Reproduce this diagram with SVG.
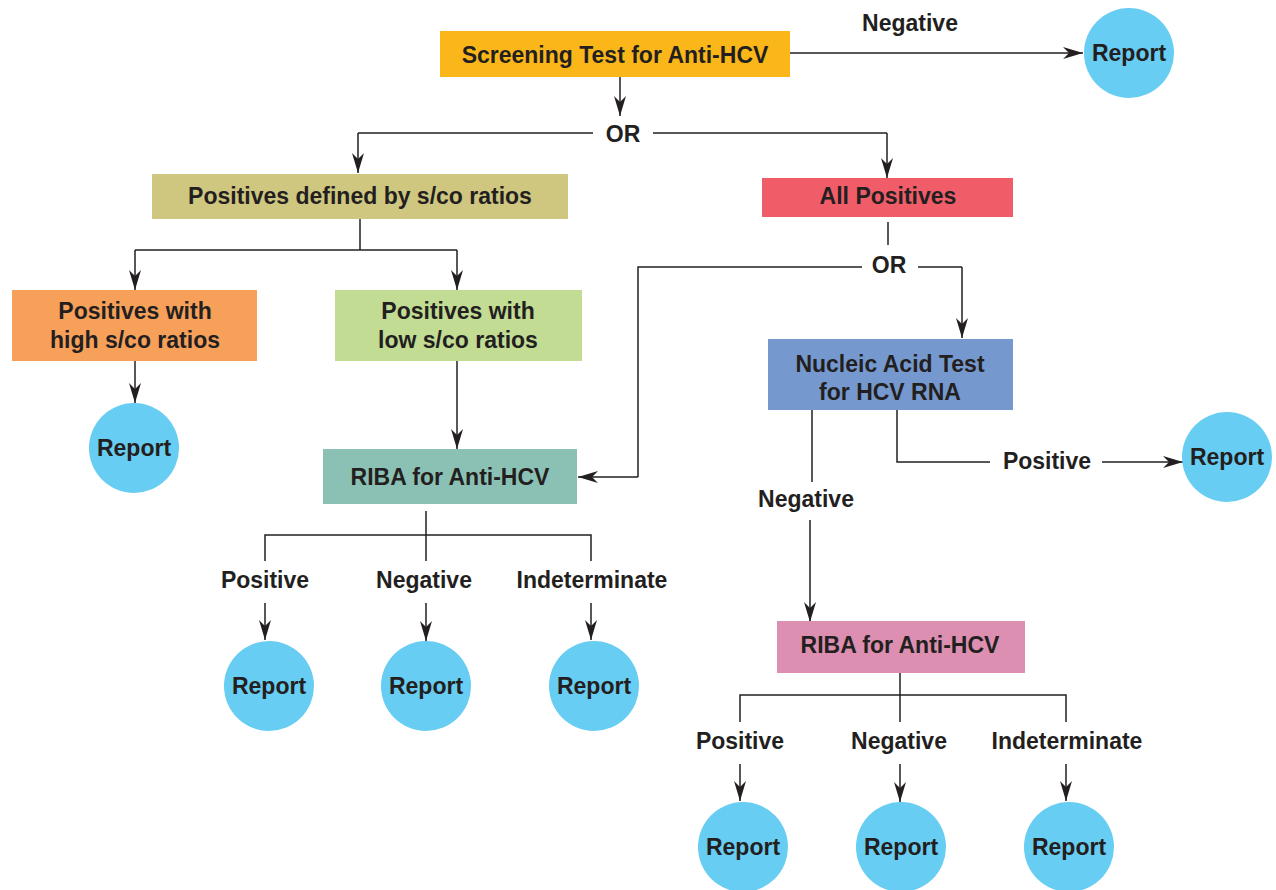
<svg xmlns="http://www.w3.org/2000/svg" width="1276" height="890" viewBox="0 0 1276 890">
<defs>
<marker id="ah" markerUnits="userSpaceOnUse" markerWidth="22" markerHeight="13" refX="20" refY="6" orient="auto">
<path d="M0,0 L20,6 L0,12 L6,6 z" fill="#231F20"/>
</marker>
<style>
text{font-family:"Liberation Sans",Arial,sans-serif;font-weight:bold;font-size:23px;fill:#231F20;text-anchor:middle}
.ln{fill:none;stroke:#231F20;stroke-width:1.5}
.ar{fill:none;stroke:#231F20;stroke-width:1.5;marker-end:url(#ah)}
.rep{fill:#67CDF3}
</style>
</defs>
<rect width="1276" height="890" fill="#FFFFFF"/>

<g id="connectors">
<path class="ar" d="M790,53 H1083"/>
<path class="ar" d="M620,77 V116"/>
<path class="ln" d="M593,133 H358"/>
<path class="ar" d="M358,133 V173"/>
<path class="ln" d="M653,133 H887"/>
<path class="ar" d="M887,133 V178"/>
<path class="ln" d="M360,219 V250"/>
<path class="ln" d="M135,250 H457"/>
<path class="ar" d="M135,250 V290"/>
<path class="ar" d="M457,250 V290"/>
<path class="ar" d="M135,361 V403"/>
<path class="ar" d="M457,361 V449"/>
<path class="ln" d="M888,222 V245"/>
<path class="ln" d="M862,267 H638 V477"/>
<path class="ar" d="M638,477 H578"/>
<path class="ln" d="M918,267 H962"/>
<path class="ar" d="M962,267 V338"/>
<path class="ln" d="M812,410 V482"/>
<path class="ar" d="M810,520 V622"/>
<path class="ln" d="M897,410 V462 H990"/>
<path class="ar" d="M1102,462 H1183"/>
<path class="ln" d="M426,511 V561"/>
<path class="ln" d="M265,561 V535 H591 V561"/>
<path class="ar" d="M265,603 V640"/>
<path class="ar" d="M426,603 V641"/>
<path class="ar" d="M591,603 V640"/>
<path class="ln" d="M900,673 V722"/>
<path class="ln" d="M740,722 V695 H1066 V722"/>
<path class="ar" d="M740,764 V801"/>
<path class="ar" d="M900,764 V802"/>
<path class="ar" d="M1066,764 V801"/>
</g>

<g id="labels">
<text x="910" y="31">Negative</text>
<text x="623" y="142">OR</text>
<text x="889" y="273">OR</text>
<text x="806" y="507">Negative</text>
<text x="1047" y="469">Positive</text>
<text x="265" y="588">Positive</text>
<text x="424" y="588">Negative</text>
<text x="592" y="588">Indeterminate</text>
<text x="740" y="749">Positive</text>
<text x="899" y="749">Negative</text>
<text x="1067" y="749">Indeterminate</text>
</g>

<g id="screening">
<rect x="440" y="31" width="350" height="46" fill="#FBB71A"/>
<text x="615" y="63">Screening Test for Anti-HCV</text>
</g>
<g id="report-top">
<circle class="rep" cx="1129" cy="53" r="45"/>
<text x="1129" y="61">Report</text>
</g>
<g id="positives-defined">
<rect x="152" y="174" width="416" height="45" fill="#CFC67F"/>
<text x="360" y="204">Positives defined by s/co ratios</text>
</g>
<g id="all-positives">
<rect x="762" y="178" width="251" height="39" fill="#F05D69"/>
<text x="888" y="204">All Positives</text>
</g>
<g id="high-sco">
<rect x="12" y="290" width="245" height="71" fill="#F7A05A"/>
<text x="135" y="319">Positives with</text>
<text x="135" y="348">high s/co ratios</text>
</g>
<g id="low-sco">
<rect x="335" y="290" width="247" height="71" fill="#C2DC93"/>
<text x="458" y="319">Positives with</text>
<text x="458" y="348">low s/co ratios</text>
</g>
<g id="report-high">
<circle class="rep" cx="134" cy="448" r="45"/>
<text x="134" y="456">Report</text>
</g>
<g id="nat">
<rect x="768" y="339" width="245" height="71" fill="#7599CF"/>
<text x="890" y="372">Nucleic Acid Test</text>
<text x="890" y="400">for HCV RNA</text>
</g>
<g id="report-nat">
<circle class="rep" cx="1227" cy="457" r="45"/>
<text x="1227" y="465">Report</text>
</g>
<g id="riba-1">
<rect x="323" y="449" width="254" height="55" fill="#8BC1B4"/>
<text x="450" y="485">RIBA for Anti-HCV</text>
</g>
<g id="riba-2">
<rect x="777" y="621" width="248" height="52" fill="#DC8FB0"/>
<text x="900" y="653">RIBA for Anti-HCV</text>
</g>
<g id="report-1a">
<circle class="rep" cx="269" cy="686" r="45"/>
<text x="269" y="694">Report</text>
</g>
<g id="report-1b">
<circle class="rep" cx="426" cy="686" r="45"/>
<text x="426" y="694">Report</text>
</g>
<g id="report-1c">
<circle class="rep" cx="594" cy="686" r="45"/>
<text x="594" y="694">Report</text>
</g>
<g id="report-2a">
<circle class="rep" cx="743" cy="847" r="45"/>
<text x="743" y="855">Report</text>
</g>
<g id="report-2b">
<circle class="rep" cx="901" cy="847" r="45"/>
<text x="901" y="855">Report</text>
</g>
<g id="report-2c">
<circle class="rep" cx="1069" cy="847" r="45"/>
<text x="1069" y="855">Report</text>
</g>
</svg>
